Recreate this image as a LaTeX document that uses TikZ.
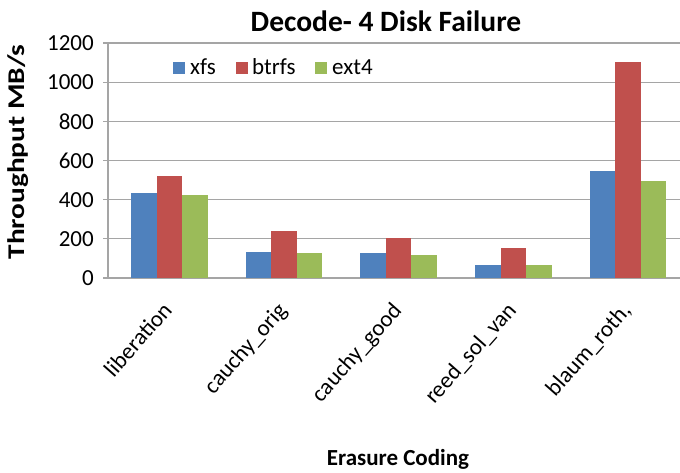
\documentclass[tikz,border=0pt]{standalone}
\usepackage{fontspec}
\setmainfont{Carlito}

\definecolor{xfsblue}{RGB}{79,129,189}
\definecolor{btrfsred}{RGB}{192,80,77}
\definecolor{extgreen}{RGB}{155,187,89}
\definecolor{gridgray}{RGB}{165,165,165}

\tikzset{
  gridline/.style={draw=gridgray, line width=1.3pt},
  ticklabel/.style={anchor=east, inner sep=0pt, font=\fontsize{23}{23}\selectfont},
  catlabel/.style={anchor=base east, inner sep=0pt, rotate=48.5, font=\fontsize{23}{23}\selectfont},
  legbox/.style={minimum size=12pt, inner sep=0pt},
  legtext/.style={anchor=base west, inner sep=0pt, font=\fontsize{23}{23}\selectfont},
}

\begin{document}
\begin{tikzpicture}[x=1pt, y=-1pt]
  \useasboundingbox (0,0) rectangle (680,473);

  \node[anchor=base, font=\bfseries\fontsize{29.5}{29.5}\selectfont] (title) at (386,32) {Decode- 4 Disk Failure};

  \foreach \v in {0,200,...,1200} {
    \coordinate (g\v) at (103,278-0.19583*\v);
    \coordinate (h\v) at (680,278-0.19583*\v);
    \node[ticklabel] (t\v) at (94,278-0.19583*\v) {\v};
    \draw[gridline] (g\v) -- (h\v);
  }
  \coordinate (ytop) at (108,43);
  \coordinate (ybot) at (108,278);
  \draw[gridline] (ytop) -- (ybot);

  \foreach \k/\a/\b/\c in {0/432/521/424, 1/133/240/128, 2/128/204/117, 3/66/153/66, 4/546/1103/495} {
    \pgfmathsetmacro\cx{169.3+114.7*\k}
    \fill[xfsblue] (\cx-38.25,278) rectangle (\cx-12.75,278-0.19583*\a);
    \fill[btrfsred] (\cx-12.75,278) rectangle (\cx+12.75,278-0.19583*\b);
    \fill[extgreen] (\cx+12.75,278) rectangle (\cx+38.25,278-0.19583*\c);
  }

  \node[legbox, fill=xfsblue] (lxfs) at (179,68.5) {};
  \node[legtext] (txfs) at (190,75) {xfs};
  \node[legbox, fill=btrfsred] (lbtrfs) at (242,68.5) {};
  \node[legtext] (tbtrfs) at (252,75) {btrfs};
  \node[legbox, fill=extgreen] (lext) at (321,68.5) {};
  \node[legtext] (text4) at (332,75) {ext4};

  \foreach \k/\name in {0/liberation, 1/cauchy\_orig, 2/cauchy\_good, 3/reed\_sol\_van, 4/{blaum\_roth,}} {
    \node[catlabel] (c\k) at (173.3+114.7*\k,311) {\name};
  }

  \node[rotate=90, xscale=1.22, font=\bfseries\fontsize{24}{24}\selectfont] (ylabel) at (18,152) {Throughput MB/s};
  \node[anchor=base, font=\bfseries\fontsize{23}{23}\selectfont] (xlabel) at (398,465) {Erasure Coding};
\end{tikzpicture}
\end{document}
